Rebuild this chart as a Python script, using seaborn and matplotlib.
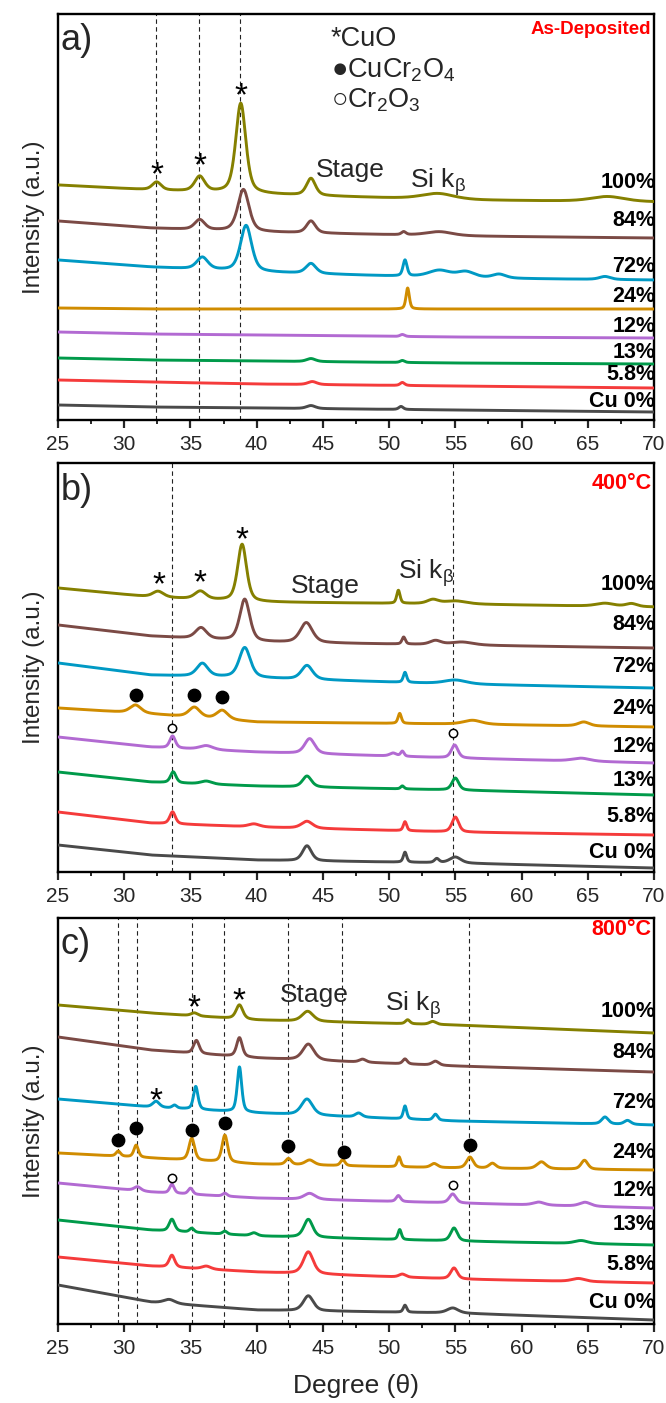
import numpy as np
import pandas as pd
import matplotlib
matplotlib.use("Agg")
import matplotlib.pyplot as plt
import seaborn as sns

# ---------------- data ----------------
SAMPLES = ["Cu 0%", "5.8%", "13%", "12%", "24%", "72%", "84%", "100%"]
COLORS = ["#4a4a4a", "#f53b3b", "#009a4a", "#b26ad2", "#d08c00", "#0099c4", "#7b4a45", "#858000"]

BASE_X = [25, 32, 40, 55, 70]

# panel a) As-Deposited : baseline heights at BASE_X, peaks (position, height, hwhm)
A_BASE = [
    [15, 13, 12, 10, 8],
    [40, 38, 36, 34, 32],
    [62, 60, 59, 57, 56],
    [88, 86, 85, 83, 82],
    [112, 111, 111, 111, 111],
    [160, 153, 148, 142, 140],
    [199, 192, 188, 184, 182],
    [235, 230, 226, 220, 218],
]
A_PEAKS = [
    [(44.1, 3, 0.4), (50.9, 3, 0.2)],
    [(44.2, 3, 0.4), (51.0, 3, 0.2)],
    [(44.1, 3, 0.4), (51.0, 2, 0.2)],
    [(51.0, 2, 0.2)],
    [(51.4, 21, 0.15)],
    [(35.9, 12, 0.5), (39.2, 46, 0.5), (44.1, 10, 0.45), (51.2, 16, 0.18),
     (53.8, 7, 1.0), (55.8, 6, 0.8), (58.3, 4, 0.6), (66.3, 3, 0.5)],
    [(35.7, 10, 0.45), (39.0, 42, 0.5), (44.1, 12, 0.4), (51.1, 3, 0.2), (53.8, 4, 1.2)],
    [(32.45, 8, 0.4), (35.7, 15, 0.45), (38.8, 90, 0.45), (44.1, 17, 0.4),
     (53.7, 6, 1.5), (66.5, 5, 1.5)],
]
A_LABEL_Y = [18, 45, 68, 94, 123, 153, 200, 237]

# panel b) 400 C
B_BASE = [
    [27, 17, 12, 9, 4],
    [60, 49, 45, 40, 37],
    [100, 90, 86, 82, 77],
    [135, 125, 120, 114, 109],
    [164, 158, 150, 148, 145],
    [209, 197, 194, 188, 184],
    [247, 236, 230, 227, 224],
    [284, 275, 270, 268, 265],
]
B_PEAKS = [
    [(43.8, 15, 0.4), (51.2, 10, 0.15), (53.6, 4, 0.2), (55.0, 6, 0.5)],
    [(33.65, 12, 0.25), (39.8, 3, 0.5), (43.8, 7, 0.5), (51.2, 9, 0.15), (55.0, 15, 0.3)],
    [(33.7, 11, 0.25), (36.2, 3, 0.5), (43.8, 11, 0.4), (51.0, 3, 0.15), (55.0, 12, 0.3)],
    [(33.65, 12, 0.25), (36.2, 4, 0.6), (44.0, 15, 0.45), (50.3, 3, 0.3), (51.0, 5, 0.15),
     (54.95, 13, 0.3), (64.5, 3, 0.8)],
    [(30.85, 8, 0.5), (35.3, 10, 0.5), (37.4, 9, 0.5), (50.8, 10, 0.15), (56.3, 4, 0.8),
     (64.7, 4, 0.5)],
    [(35.9, 13, 0.5), (39.1, 30, 0.5), (43.8, 14, 0.5), (51.2, 10, 0.15), (55.0, 4, 1.0)],
    [(35.8, 11, 0.5), (39.1, 42, 0.45), (43.75, 20, 0.55), (51.1, 7, 0.15), (53.5, 4, 0.5),
     (55.5, 3, 1.0)],
    [(32.55, 6, 0.5), (35.75, 8, 0.5), (38.9, 57, 0.4), (50.7, 13, 0.15), (53.3, 4, 0.5),
     (55.0, 3, 1.0), (66.3, 3, 0.8), (68.3, 3, 0.5)],
]
B_LABEL_Y = [20, 55, 92, 125, 164, 205, 247, 287]

# panel c) 800 C
C_BASE = [
    [39, 22, 14, 11, 4],
    [67, 58, 52, 45, 41],
    [104, 94, 88, 83, 79],
    [141, 132, 126, 121, 116],
    [171, 166, 160, 156, 154],
    [225, 217, 211, 203, 199],
    [287, 274, 266, 258, 252],
    [319, 311, 304, 299, 291],
]
C_PEAKS = [
    [(33.4, 4, 0.5), (43.9, 15, 0.45), (51.2, 7, 0.15), (54.8, 5, 0.5)],
    [(33.6, 12, 0.25), (36.2, 3, 0.4), (43.9, 22, 0.45), (51.0, 3, 0.3), (54.9, 11, 0.3),
     (64.3, 3, 0.6)],
    [(33.6, 12, 0.25), (35.1, 4, 0.2), (37.6, 3, 0.2), (39.8, 3, 0.3), (43.9, 18, 0.4),
     (50.8, 10, 0.15), (54.9, 13, 0.3), (64.5, 3, 0.6)],
    [(31.0, 4, 0.3), (33.6, 9, 0.2), (35.0, 6, 0.2), (37.6, 3, 0.2), (44.0, 6, 0.5),
     (50.7, 6, 0.2), (54.8, 9, 0.3), (61.3, 3, 0.5), (64.8, 4, 0.5)],
    [(29.55, 5, 0.2), (30.9, 12, 0.2), (35.1, 22, 0.25), (37.6, 27, 0.25), (42.4, 6, 0.25),
     (44.0, 5, 0.4), (46.5, 6, 0.2), (50.75, 10, 0.15), (53.4, 4, 0.3), (56.1, 11, 0.3),
     (57.8, 5, 0.3), (61.5, 7, 0.4), (64.75, 9, 0.3)],
    [(32.4, 6, 0.3), (33.8, 3, 0.2), (35.4, 23, 0.2), (38.7, 45, 0.2), (43.8, 16, 0.5),
     (47.7, 4, 0.3), (51.2, 13, 0.15), (53.5, 6, 0.2), (66.3, 7, 0.3), (68.0, 4, 0.3)],
    [(35.45, 13, 0.25), (38.7, 19, 0.25), (43.9, 16, 0.5), (48.0, 3, 0.3), (51.2, 5, 0.2),
     (53.5, 4, 0.3)],
    [(35.3, 3, 0.3), (38.7, 14, 0.3), (43.85, 10, 0.5), (51.4, 4, 0.2), (53.3, 3, 0.3)],
]
C_LABEL_Y = [22, 59, 99, 134, 171, 222, 272, 312]

# reference lines and phase markers
A_VLINES = [32.4, 35.65, 38.75]
B_VLINES = [33.6, 54.85]
C_VLINES = [29.55, 30.95, 35.1, 37.55, 42.4, 46.45, 56.05]

A_STAR_X, A_STAR_Y = [32.45, 35.7, 38.8], [253, 262, 332]
B_STAR_X, B_STAR_Y = [32.6, 35.75, 38.9], [295, 297, 340]
C_STAR_X, C_STAR_Y = [35.25, 38.7, 32.4], [324, 331, 231]

B_DOT_X, B_DOT_Y = [30.9, 35.3, 37.4], [177, 177, 175]
B_RING_X, B_RING_Y = [33.6, 54.85], [144, 139]
C_DOT_X, C_DOT_Y = [29.5, 30.9, 35.1, 37.6, 42.4, 46.6, 56.1], [184, 196, 194, 201, 178, 172, 179]
C_RING_X, C_RING_Y = [33.6, 54.8], [146, 139]

STAGE_POS = [(47.1, 250), (45.2, 286), (44.35, 329)]
SIKB_POS = [(53.7, 238), (52.8, 299), (51.8, 319)]
PANEL_TAGS = ["a)", "b)", "c)"]
TAG_Y = [380, 382, 379]
PANEL_TITLES = ["As-Deposited", "400°C", "800°C"]
TITLE_Y = [390, 388, 394]
TITLE_SIZES = [13.5, 15.5, 15.5]
LEGEND_TEXT = ["*CuO", "●CuCr$_2$O$_4$", "○Cr$_2$O$_3$"]
LEGEND_Y = [381, 350, 320]

XTICKS = [25, 30, 35, 40, 45, 50, 55, 60, 65, 70]

# ---------------- helpers ----------------
def trace(x, base, peaks):
    y = np.interp(x, BASE_X, base)
    for p, h, w in peaks:
        u = (x - p) / w
        y = y + h * (0.5 * np.exp(-np.log(2) * u * u) + 0.5 / (1 + u * u))
    return y

sns.set_theme(style="ticks")
FAM = ["Liberation Sans", "DejaVu Sans"]
plt.rcParams["font.family"] = FAM
plt.rcParams["mathtext.fontset"] = "custom"
plt.rcParams["mathtext.rm"] = "Liberation Sans"
plt.rcParams["mathtext.it"] = "Liberation Sans:italic"
plt.rcParams["mathtext.bf"] = "Liberation Sans:bold"

fig = plt.figure(figsize=(6.66, 14.03), dpi=100)
LEFT, WIDTH = 58 / 666, 596 / 666
TOPS = [14, 463, 918]
BOTTOMS = [420, 872, 1324]

xgrid = np.arange(25, 70.0001, 0.02)
panels = [
    (A_BASE, A_PEAKS, A_LABEL_Y, A_VLINES, (A_STAR_X, A_STAR_Y), None, None),
    (B_BASE, B_PEAKS, B_LABEL_Y, B_VLINES, (B_STAR_X, B_STAR_Y), (B_DOT_X, B_DOT_Y), (B_RING_X, B_RING_Y)),
    (C_BASE, C_PEAKS, C_LABEL_Y, C_VLINES, (C_STAR_X, C_STAR_Y), (C_DOT_X, C_DOT_Y), (C_RING_X, C_RING_Y)),
]

for k, (bases, peaks, laby, vlines, stars, dots, rings) in enumerate(panels):
    top, bot = TOPS[k], BOTTOMS[k]
    ax = fig.add_axes([LEFT, 1 - bot / 1403, WIDTH, (bot - top) / 1403])
    h = bot - top
    rows = []
    for i, s in enumerate(SAMPLES):
        y = trace(xgrid, bases[i], peaks[i])
        rows.append(pd.DataFrame({"deg": xgrid, "I": y, "sample": s}))
    df = pd.concat(rows, ignore_index=True)
    for v in vlines:
        ax.axvline(v, color="#222222", lw=0.8, ls=(0, (4, 3)), zorder=1)
    sns.lineplot(data=df, x="deg", y="I", hue="sample", hue_order=SAMPLES,
                 palette=COLORS, lw=2.1, legend=False, estimator=None, sort=False,
                 ax=ax, zorder=3)
    for i, s in enumerate(SAMPLES):
        ax.text(70.1, laby[i], s, ha="right", va="center", fontsize=15.5,
                fontweight="bold", color="black", zorder=5)
    for sx, sy in zip(*stars):
        ax.text(sx, sy - 9, "*", ha="center", va="center", fontsize=24, color="black")
    if dots is not None:
        ax.scatter(dots[0], dots[1], s=80, color="black", zorder=6)
    if rings is not None:
        ax.scatter(rings[0], rings[1], s=36, facecolor="white", edgecolor="black",
                   lw=1.1, zorder=6)
    ax.text(STAGE_POS[k][0], STAGE_POS[k][1], "Stage", ha="center", va="center", fontsize=19)
    ax.text(SIKB_POS[k][0], SIKB_POS[k][1], r"Si k$_{\mathrm{β}}$", ha="center",
            va="center", fontsize=19)
    ax.text(25.2, TAG_Y[k], PANEL_TAGS[k], ha="left", va="center", fontsize=26)
    ax.text(69.8, TITLE_Y[k], PANEL_TITLES[k], ha="right", va="center",
            fontsize=TITLE_SIZES[k], fontweight="bold", color="#ff0000")
    if k == 0:
        for txt, ly in zip(LEGEND_TEXT, LEGEND_Y):
            ax.text(45.6, ly, txt, ha="left", va="center", fontsize=19.5, family=FAM)
    ax.set_xlim(25, 70)
    ax.set_ylim(0, h)
    ax.set_yticks([])
    ax.set_xticks(XTICKS)
    ax.set_xticks(np.arange(27.5, 70, 5), minor=True)
    ax.tick_params(axis="x", which="major", direction="out", length=5.5, width=1.6,
                   labelsize=15, pad=5)
    ax.tick_params(axis="x", which="minor", direction="out", length=3, width=1.4)
    for sp in ax.spines.values():
        sp.set_visible(True)
        sp.set_linewidth(1.7)
        sp.set_color("black")
    ax.set_ylabel("Intensity (a.u.)", fontsize=17.5, labelpad=9)
    if k == 2:
        ax.set_xlabel("Degree (θ)", fontsize=19, labelpad=12)
    else:
        ax.set_xlabel("")

fig.savefig("out.png", dpi=100)
